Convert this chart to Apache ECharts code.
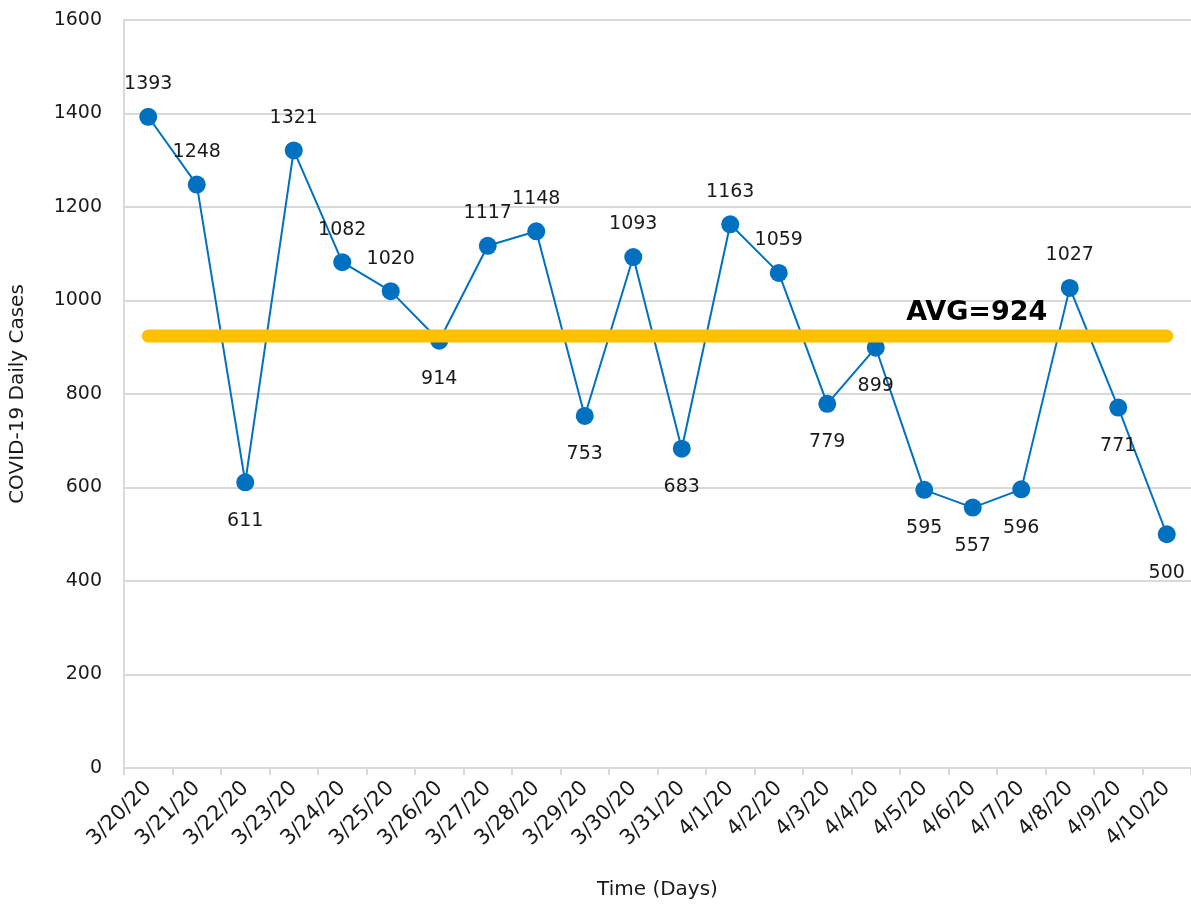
<!DOCTYPE html>
<html>
<head>
<meta charset="utf-8">
<script src="https://cdn.jsdelivr.net/npm/echarts@6/dist/echarts.min.js"></script>
<style>
  html, body { margin: 0; padding: 0; background: #fff; }
  #chart { width: 1191px; height: 907px; }
</style>
</head>
<body>
<div id="chart"></div>
<script>
// Daily COVID-19 case counts, 3/20/20 – 4/10/20
const dates = ['3/20/20','3/21/20','3/22/20','3/23/20','3/24/20','3/25/20','3/26/20','3/27/20','3/28/20','3/29/20','3/30/20','3/31/20','4/1/20','4/2/20','4/3/20','4/4/20','4/5/20','4/6/20','4/7/20','4/8/20','4/9/20','4/10/20'];
const dailyCases = [1393,1248,611,1321,1082,1020,914,1117,1148,753,1093,683,1163,1059,779,899,595,557,596,1027,771,500];
// where each value label sits relative to its marker
const labelSide = ['top','top','bottom','top','top','top','bottom','top','top','bottom','top','bottom','top','top','bottom','bottom','bottom','bottom','bottom','top','bottom','bottom'];
const average = 924;
const avgLabelIndex = 17;
const yTicks = { min: 0, max: 1600, interval: 200 };

const FONT = 'DejaVu Sans';
const chart = echarts.init(document.getElementById('chart'), null, { renderer: 'canvas' });

const caseData = dailyCases.map((v, i) => ({
  value: v,
  label: { position: labelSide[i], distance: labelSide[i] === 'top' ? 14 : 20 }
}));
const avgData = dates.map(() => average);

chart.setOption({
  animation: false,
  backgroundColor: '#fff',
  grid: { left: 124, right: 0, top: 20, bottom: 139, containLabel: false },
  xAxis: {
    type: 'category',
    data: dates,
    boundaryGap: true,
    name: 'Time (Days)',
    nameLocation: 'middle',
    nameGap: 112,
    nameTextStyle: { fontFamily: FONT, fontSize: 20, color: '#1a1a1a' },
    axisLine: { show: true, lineStyle: { color: '#d9d9d9', width: 2 } },
    axisTick: { show: true, alignWithLabel: false, length: 7, lineStyle: { color: '#d9d9d9', width: 2 } },
    axisLabel: { rotate: 45, fontFamily: FONT, fontSize: 21, color: '#1a1a1a', margin: 17, interval: 0 },
    splitLine: { show: false }
  },
  yAxis: {
    type: 'value',
    min: yTicks.min, max: yTicks.max, interval: yTicks.interval,
    name: 'COVID-19 Daily Cases',
    nameLocation: 'middle',
    nameGap: 96,
    nameTextStyle: { fontFamily: FONT, fontSize: 20, color: '#1a1a1a' },
    axisLine: { show: true, lineStyle: { color: '#d9d9d9', width: 2 } },
    axisTick: { show: false },
    axisLabel: { fontFamily: FONT, fontSize: 19, color: '#1a1a1a', margin: 22, formatter: (v) => String(v) },
    splitLine: { show: true, lineStyle: { color: '#d9d9d9', width: 2 } }
  },
  series: [
    {
      name: 'Daily Cases',
      type: 'line',
      data: caseData,
      symbol: 'circle',
      symbolSize: 18,
      lineStyle: { color: '#0070C0', width: 2 },
      itemStyle: { color: '#0070C0' },
      label: { show: true, fontFamily: FONT, fontSize: 19, color: '#1a1a1a' },
      z: 2
    },
    {
      name: 'Average',
      type: 'line',
      data: avgData,
      symbol: 'none',
      lineStyle: { color: '#FFC000', width: 13, cap: 'round' },
      z: 3,
      markPoint: {
        symbol: 'circle',
        symbolSize: 0,
        data: [{ coord: [avgLabelIndex, average] }],
        label: {
          show: true, position: 'top', distance: 10, offset: [4, 0], formatter: 'AVG=' + average,
          fontFamily: FONT, fontWeight: 'bold', fontSize: 27, color: '#000'
        }
      }
    }
  ]
});
</script>
</body>
</html>
